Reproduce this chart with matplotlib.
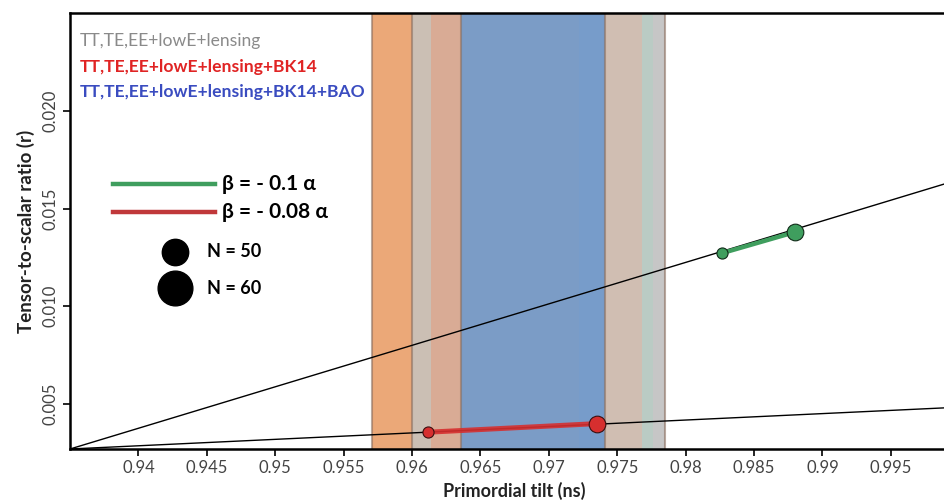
import matplotlib.pyplot as plt

plt.rcParams['font.family'] = ['Lato', 'DejaVu Sans']

# slow-roll lines (r vs ns), endpoints
line_ns = [0.935, 1.0]
line_r_upper = [0.0027, 0.01649]
line_r_lower = [0.0027, 0.00484]

# model predictions (N = 50, N = 60)
green_ns = [0.98265, 0.9880]
green_r = [0.01272, 0.0138]
red_ns = [0.9612, 0.97354]
red_r = [0.00356, 0.0040]

# Planck constraint bands on ns
band_lo = [0.9571, 0.9600, 0.9614, 0.9636, 0.9741, 0.9768, 0.9776]
band_hi = [0.9600, 0.9614, 0.9636, 0.9741, 0.9768, 0.9776, 0.9785]
band_colors = ['#eba878', '#cbbfb4', '#d9ab95', '#7b9cc6',
               '#d0beb2', '#bacbc4', '#c6c6c6']
band_edges = [0.9571, 0.9600, 0.9636, 0.9741, 0.9785]

datasets = ['TT,TE,EE+lowE+lensing',
            'TT,TE,EE+lowE+lensing+BK14',
            'TT,TE,EE+lowE+lensing+BK14+BAO']
dataset_colors = ['#8a8a8a', '#e02424', '#3a4cc0']

xticks = [0.94, 0.945, 0.95, 0.955, 0.96, 0.965, 0.97, 0.975,
          0.98, 0.985, 0.99, 0.995]
xticklabels = ['0.94', '0.945', '0.95', '0.955', '0.96', '0.965', '0.97',
               '0.975', '0.98', '0.985', '0.99', '0.995']
yticks = [0.005, 0.010, 0.015, 0.020]
yticklabels = ['0.005', '0.010', '0.015', '0.020']

fig = plt.figure(figsize=(9.44, 5.01), dpi=100)
ax = fig.add_axes([0.0742, 0.1038, 0.942, 0.870])

for lo, hi, c in zip(band_lo, band_hi, band_colors):
    ax.axvspan(lo, hi, color=c, lw=0, zorder=1)
for e in band_edges:
    ax.axvline(e, color='#8b6f60', lw=1.5, alpha=0.6, zorder=1.5)
ax.axvspan(0.9722, 0.9740, color='#6f9dd4', lw=0, alpha=0.3, zorder=1.2)

ax.plot(line_ns, line_r_upper, color='black', lw=1, zorder=3)
ax.plot(line_ns, line_r_lower, color='black', lw=1, zorder=3)

ax.plot(red_ns, red_r, color='#d62f2f', lw=3.6, alpha=0.9, zorder=4)
ax.plot(red_ns[0], red_r[0], 'o', ms=8, mfc='#d62f2f', mec='#3a1010',
        mew=0.8, ls='none', zorder=5)
ax.plot(red_ns[1], red_r[1], 'o', ms=12, mfc='#d62f2f', mec='#3a1010',
        mew=0.8, ls='none', zorder=5)
ax.plot(green_ns, green_r, color='#3f9e5e', lw=3.2, zorder=4)
ax.plot(green_ns[0], green_r[0], 'o', ms=8, mfc='#3f9e5e', mec='#102a18',
        mew=0.8, ls='none', zorder=5)
ax.plot(green_ns[1], green_r[1], 'o', ms=12, mfc='#3f9e5e', mec='#102a18',
        mew=0.8, ls='none', zorder=5)

ax.set_xlim(0.935, 1.0)
ax.set_ylim(0.0027, 0.025)

# dataset labels
for i, (txt, c) in enumerate(zip(datasets, dataset_colors)):
    ax.text(0.011, 0.936 - i * 0.059, txt, color=c, fontsize=12.6,
            fontweight='bold' if i > 0 else 'normal',
            transform=ax.transAxes, va='center', ha='left', zorder=6)

# beta / N legend
ax.plot([0.048, 0.163], [0.608, 0.608], color='#3f9e5e', lw=3.2,
        transform=ax.transAxes, zorder=6)
ax.plot([0.048, 0.163], [0.544, 0.544], color='#c0383a', lw=3.2,
        transform=ax.transAxes, zorder=6)
ax.text(0.171, 0.608, 'β = - 0.1 α', fontsize=15, fontweight='bold',
        transform=ax.transAxes, va='center', zorder=6)
ax.text(0.171, 0.544, 'β = - 0.08 α', fontsize=15, fontweight='bold',
        transform=ax.transAxes, va='center', zorder=6)
ax.plot(0.118, 0.452, 'o', ms=19, color='black', transform=ax.transAxes,
        zorder=6)
ax.plot(0.118, 0.369, 'o', ms=25, color='black', transform=ax.transAxes,
        zorder=6)
ax.text(0.154, 0.452, 'N = 50', fontsize=13, fontweight='bold',
        transform=ax.transAxes, va='center', zorder=6)
ax.text(0.154, 0.369, 'N = 60', fontsize=13, fontweight='bold',
        transform=ax.transAxes, va='center', zorder=6)

ax.set_xticks(xticks)
ax.set_xticklabels(xticklabels)
ax.set_yticks(yticks)
ax.set_yticklabels(yticklabels, rotation=90, va='center')
ax.tick_params(axis='both', labelsize=12, labelcolor='#444444',
               length=5, width=1.2, direction='out', pad=3)

ax.set_xlabel('Primordial tilt (ns)', fontsize=13, fontweight='bold',
              color='#222222', labelpad=4)
ax.set_ylabel('Tensor-to-scalar ratio (r)', fontsize=13.5, fontweight='bold',
              color='#222222', labelpad=6)

for s in ['left', 'top', 'bottom']:
    ax.spines[s].set_linewidth(1.8)
ax.spines['right'].set_visible(False)

fig.savefig('out.png', dpi=100)
